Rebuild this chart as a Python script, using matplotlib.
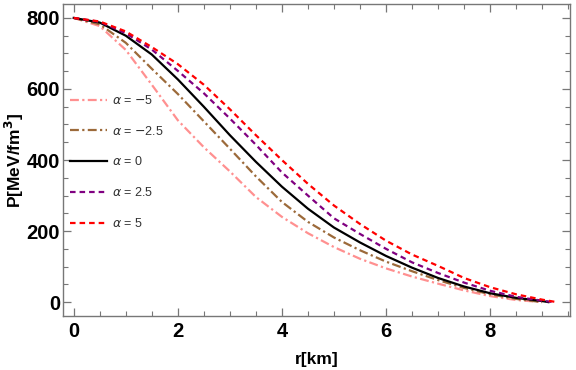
import matplotlib
matplotlib.use("Agg")
from matplotlib import pyplot as plt
from matplotlib.ticker import MultipleLocator

plt.rcParams['font.family'] = ['Liberation Sans', 'DejaVu Sans']

# radius grid (km), every 0.5 km
r_grid = [0.0, 0.5, 1.0, 1.5, 2.0, 2.5, 3.0, 3.5, 4.0, 4.5,
          5.0, 5.5, 6.0, 6.5, 7.0, 7.5, 8.0, 8.5, 9.0]

# pressure in MeV/fm^3 for each alpha
p_m5 = [800, 777, 710, 612, 512, 436, 368, 296, 240, 194,
        155, 122, 95, 72, 52, 33, 17, 6, 0]
p_m25 = [800, 782, 730, 657, 586, 509, 432, 354, 282, 226,
         182, 146, 114, 87, 62, 40, 22, 9, 0]
p_0 = [800, 787, 750, 697, 627, 550, 470, 395, 325, 263,
       210, 168, 130, 97, 68, 44, 25, 12, 3]
p_25 = [800, 789, 757, 711, 651, 588, 517, 443, 365, 300,
        236, 192, 150, 112, 82, 55, 32, 15, 4]
p_5 = [800, 790, 762, 718, 670, 612, 543, 470, 400, 333,
       272, 220, 173, 134, 102, 68, 42, 22, 7]

# surface radius (P = 0) of each star
r_end = {"m5": 9.0, "m25": 9.0, "0": 9.12, "25": 9.22, "5": 9.28}

series = [
    (p_m5, r_end["m5"], "#FF9090", (0, (4, 1.5, 1, 1.5)), r"$\alpha$ = $-$5"),
    (p_m25, r_end["m25"], "#9C6A3A", (0, (4, 1.5, 1, 1.5)), r"$\alpha$ = $-$2.5"),
    (p_0, r_end["0"], "black", "-", r"$\alpha$ = 0"),
    (p_25, r_end["25"], "#800080", (0, (2.5, 1.8)), r"$\alpha$ = 2.5"),
    (p_5, r_end["5"], "#FF0000", (0, (2.5, 1.8)), r"$\alpha$ = 5"),
]

fig = plt.figure(figsize=(5.76, 3.70), dpi=100)
ax = fig.add_axes([0.109, 0.146, 0.881, 0.843])

for p, rend, col, ls, lab in series:
    rs = list(r_grid)
    ps = list(p)
    if rend > rs[-1]:
        rs.append(rend)
        ps.append(0)
    ax.plot(rs, ps, color=col, linestyle=ls, linewidth=1.6, label=lab)

ax.set_xlim(-0.21, 9.54)
ax.set_ylim(-39, 839)
ax.xaxis.set_major_locator(MultipleLocator(2))
ax.xaxis.set_minor_locator(MultipleLocator(0.5))
ax.yaxis.set_major_locator(MultipleLocator(200))
ax.yaxis.set_minor_locator(MultipleLocator(50))
ax.tick_params(which='both', direction='in', top=True, right=True,
               color='#777777')
ax.tick_params(which='major', length=6, width=0.9, labelsize=14.5)
ax.tick_params(axis='x', which='major', pad=4)
ax.tick_params(axis='y', which='major', pad=2)
ax.tick_params(which='minor', length=3.5, width=0.8)
for lbl in ax.get_xticklabels() + ax.get_yticklabels():
    lbl.set_fontweight('bold')
for sp in ax.spines.values():
    sp.set_color('#777777')
    sp.set_linewidth(1.0)

ax.set_xlabel('r[km]', fontsize=12.5, fontweight='bold', labelpad=8)
ax.set_ylabel(r'P[MeV/fm$^\mathbf{3}$]', fontsize=12.5, fontweight='bold')
ax.yaxis.set_label_coords(-0.072, 0.5)

leg = ax.legend(loc='upper left', bbox_to_anchor=(-0.008, 0.748),
                frameon=False, fontsize=9, handlelength=3.0,
                handletextpad=0.4, labelspacing=1.42)
for t in leg.get_texts():
    t.set_color('#333333')

fig.savefig('out.png', dpi=100)
